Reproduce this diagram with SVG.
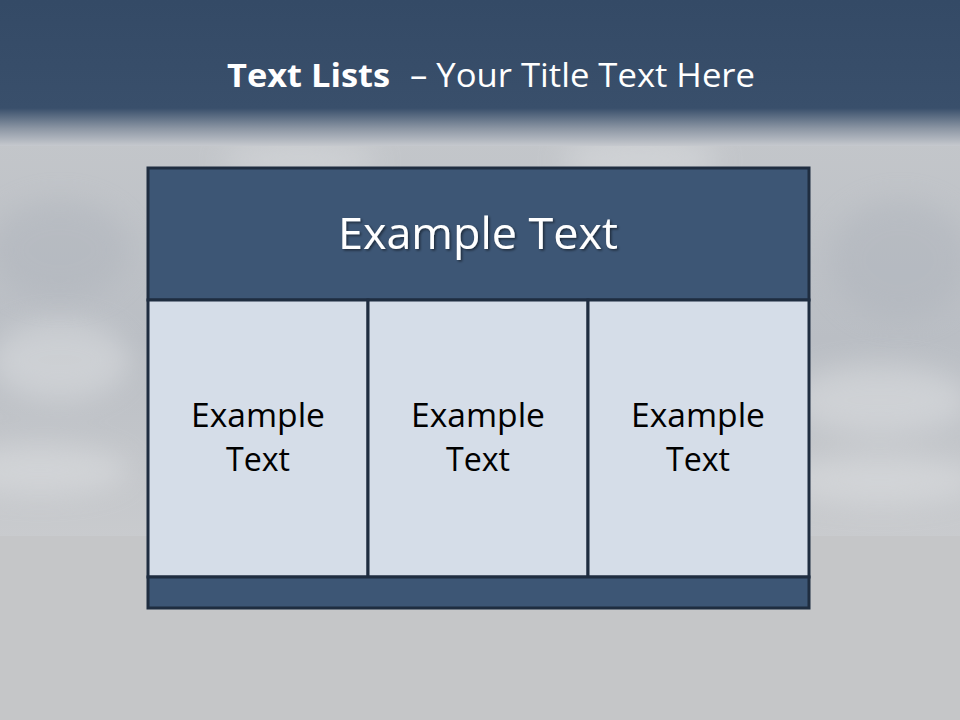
<svg xmlns="http://www.w3.org/2000/svg" width="960" height="720" viewBox="0 0 960 720">
<defs>
<linearGradient id="sky" x1="0" y1="0" x2="0" y2="1">
<stop offset="0" stop-color="#c3c6ca"/>
<stop offset="0.5" stop-color="#babec4"/>
<stop offset="1" stop-color="#c9cbce"/>
</linearGradient>
<linearGradient id="band" x1="0" y1="0" x2="0" y2="1">
<stop offset="0" stop-color="#344a66"/>
<stop offset="0.74" stop-color="#394f6b"/>
<stop offset="0.88" stop-color="#8c96a4"/>
<stop offset="1" stop-color="#c6c9ce"/>
</linearGradient>
<filter id="blur" x="-50%" y="-50%" width="200%" height="200%"><feGaussianBlur stdDeviation="14"/></filter>
<filter id="shadow" x="-10%" y="-10%" width="120%" height="130%"><feDropShadow dx="1.5" dy="1.5" stdDeviation="1" flood-color="#000" flood-opacity="0.5"/></filter>
<style>
.hdr{fill:#3d5675;stroke:#1f2d40;stroke-width:3}
.col{fill:#d5dde8;stroke:#1f2d40;stroke-width:3}
.ct{font-family:"Open Sans","Noto Sans",sans-serif;font-size:33px;fill:#000;text-anchor:middle}
.wt{font-family:"Open Sans","Noto Sans",sans-serif;fill:#fff}
</style>
</defs>
<g id="background">
<rect x="0" y="0" width="960" height="720" fill="#c6c7c9"/>
<rect x="0" y="140" width="960" height="398" fill="url(#sky)"/>
<g filter="url(#blur)" fill="#e2e4e6" opacity="0.45">
<ellipse cx="60" cy="360" rx="70" ry="40"/>
<ellipse cx="880" cy="400" rx="90" ry="35"/>
<ellipse cx="40" cy="470" rx="90" ry="25"/>
<ellipse cx="880" cy="480" rx="100" ry="25"/>
<ellipse cx="640" cy="160" rx="80" ry="20"/>
<ellipse cx="300" cy="160" rx="80" ry="15"/>
</g>
<g filter="url(#blur)" fill="#a9afb8" opacity="0.35">
<ellipse cx="60" cy="250" rx="70" ry="50"/>
<ellipse cx="900" cy="260" rx="70" ry="60"/>
</g>
<rect x="0" y="536" width="960" height="184" fill="#c5c6c8"/>
<rect x="0" y="0" width="960" height="146" fill="url(#band)"/>
</g>
<g id="title">
<text x="227" y="87" class="wt" font-size="33" font-weight="bold" textLength="163" lengthAdjust="spacingAndGlyphs">Text Lists</text>
<text x="410" y="87" class="wt" font-size="33" textLength="345" lengthAdjust="spacingAndGlyphs">– Your Title Text Here</text>
</g>
<g id="node-header">
<rect class="hdr" x="148" y="168" width="661" height="132"/>
<text x="478" y="249" class="wt" font-size="43" text-anchor="middle" filter="url(#shadow)" textLength="280" lengthAdjust="spacingAndGlyphs">Example Text</text>
</g>
<g id="node-col1">
<rect class="col" x="148" y="300" width="220" height="277"/>
<text x="258" y="427" class="ct" textLength="134" lengthAdjust="spacingAndGlyphs">Example</text>
<text x="258" y="471" class="ct" textLength="64" lengthAdjust="spacingAndGlyphs">Text</text>
</g>
<g id="node-col2">
<rect class="col" x="368" y="300" width="220" height="277"/>
<text x="478" y="427" class="ct" textLength="134" lengthAdjust="spacingAndGlyphs">Example</text>
<text x="478" y="471" class="ct" textLength="64" lengthAdjust="spacingAndGlyphs">Text</text>
</g>
<g id="node-col3">
<rect class="col" x="588" y="300" width="221" height="277"/>
<text x="698" y="427" class="ct" textLength="134" lengthAdjust="spacingAndGlyphs">Example</text>
<text x="698" y="471" class="ct" textLength="64" lengthAdjust="spacingAndGlyphs">Text</text>
</g>
<g id="node-footer">
<rect class="hdr" x="148" y="577" width="661" height="31"/>
</g>
<g id="connectors"/>
</svg>
